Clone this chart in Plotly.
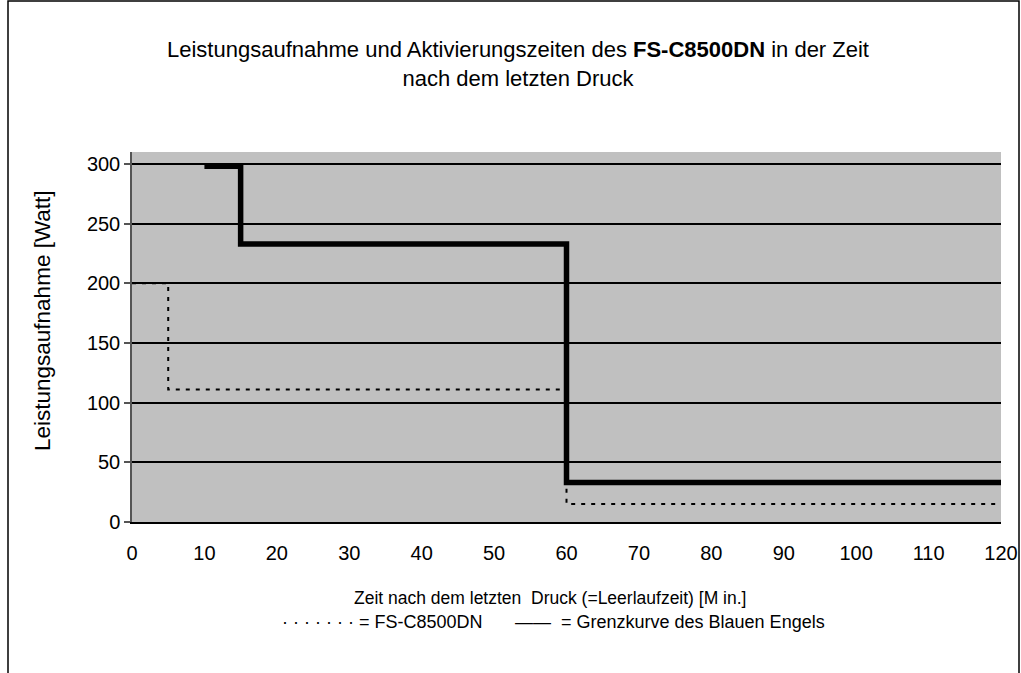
import plotly.graph_objects as go

# Data
fs_x = [0, 5, 60, 120]
fs_y = [200, 111, 15, 15]
grenz_x = [10, 15, 60, 120]
grenz_y = [298, 233, 33, 33]
x_ticks = [0, 10, 20, 30, 40, 50, 60, 70, 80, 90, 100, 110, 120]
y_ticks = [0, 50, 100, 150, 200, 250, 300]

W, H = 1021, 673
L, R, T, B = 132, 1001, 152, 522  # plot area in pixels

def px(xp):
    return (xp - L) / (R - L)

def py(yp):
    return (B - yp) / (B - T)

FONT = "Liberation Sans, Arial, sans-serif"

fig = go.Figure()
fig.add_trace(go.Scatter(
    x=fs_x, y=fs_y, mode="lines", line_shape="hv", name="FS-C8500DN",
    line=dict(color="black", width=2, dash="4px,6px"), showlegend=False))
fig.add_trace(go.Scatter(
    x=grenz_x, y=grenz_y, mode="lines", line_shape="hv",
    name="Grenzkurve des Blauen Engels",
    line=dict(color="black", width=5.5), showlegend=False))

fig.update_layout(
    width=W, height=H,
    margin=dict(l=L, r=W - R, t=T, b=H - B, autoexpand=False),
    paper_bgcolor="white", plot_bgcolor="#C0C0C0",
    font=dict(family=FONT, color="black"),
    title=dict(
        text="Leistungsaufnahme und Aktivierungszeiten des <b>FS-C8500DN</b> in der Zeit<br>nach dem letzten Druck",
        x=px(518), xref="paper", xanchor="center",
        y=1 - 57 / H, yref="container", yanchor="middle",
        font=dict(size=22, family=FONT)),
    xaxis=dict(
        range=[0, 120], tickvals=x_ticks, ticks="", showgrid=False,
        zeroline=False, showline=True, linecolor="black", linewidth=2,
        tickfont=dict(size=20), ticklabelstandoff=12, fixedrange=True),
    yaxis=dict(
        range=[0, 310], tickvals=y_ticks, ticks="outside", ticklen=6,
        tickcolor="#555", tickwidth=1.5,
        showgrid=True, gridcolor="black", gridwidth=2, zeroline=False,
        showline=True, linecolor="#555", linewidth=1.5,
        tickfont=dict(size=20), fixedrange=True),
    showlegend=False,
)

# y axis title
fig.add_annotation(
    text="Leistungsaufnahme [Watt]", textangle=-90,
    xref="paper", yref="paper", x=px(42), y=py(321),
    xanchor="center", yanchor="middle", showarrow=False,
    font=dict(size=22.5, family=FONT))

fig.add_annotation(
    text="Zeit nach dem letzten  Druck (=Leerlaufzeit) [M in.]",
    xref="paper", yref="paper", x=px(550), y=py(598),
    xanchor="center", yanchor="middle", showarrow=False,
    font=dict(size=17.5, family=FONT))
fig.add_annotation(
    text="· · · · · · · = FS-C8500DN",
    xref="paper", yref="paper", x=px(280), y=py(622),
    xanchor="left", yanchor="middle", showarrow=False,
    font=dict(size=18, family=FONT))
fig.add_annotation(
    text="——  = Grenzkurve des Blauen Engels",
    xref="paper", yref="paper", x=px(513), y=py(622),
    xanchor="left", yanchor="middle", showarrow=False,
    font=dict(size=18, family=FONT))

# outer chart border
fig.add_shape(type="rect", xref="paper", yref="paper",
              x0=px(8), x1=px(1019), y0=py(690), y1=py(1),
              line=dict(color="black", width=1.5), fillcolor="rgba(0,0,0,0)",
              layer="below")

fig.write_html("out.html", config={"displayModeBar": False},
               post_script="document.body.style.margin='0';")
